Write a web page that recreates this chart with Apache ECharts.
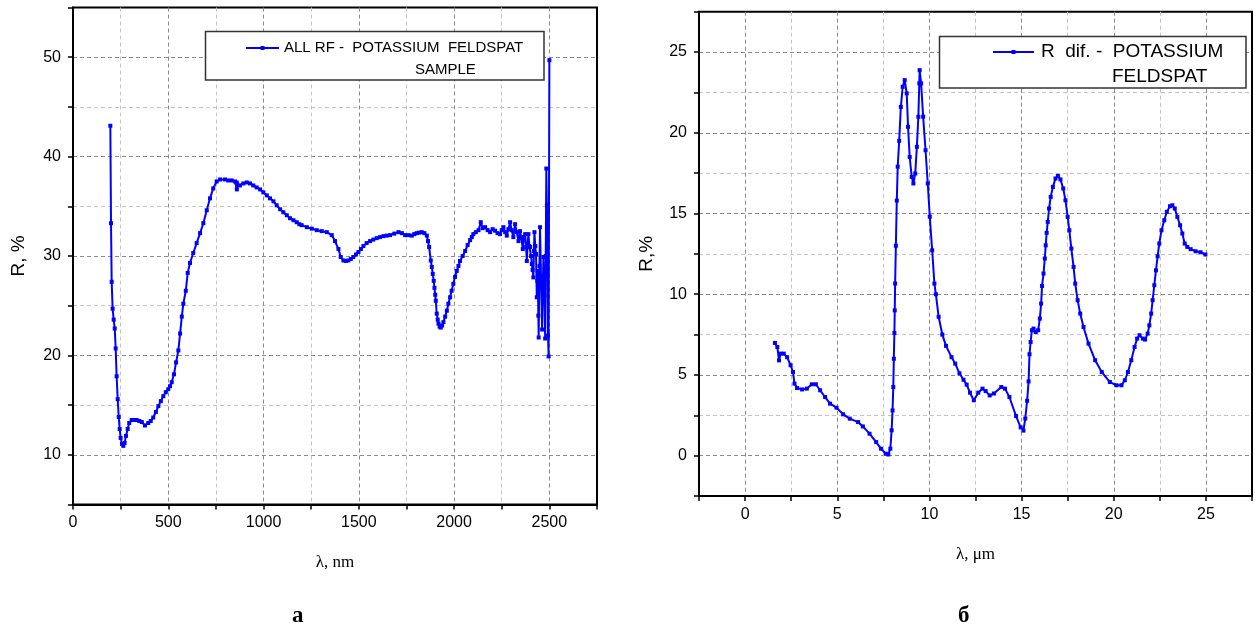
<!DOCTYPE html>
<html>
<head>
<meta charset="utf-8">
<script src="https://cdn.jsdelivr.net/npm/echarts@6/dist/echarts.min.js"></script>
<style>
html,body{margin:0;padding:0;background:#fff;}
#c{width:1255px;height:630px;}
</style>
</head>
<body>
<div id="c"></div>
<script>
// ---- Data: panel а (λ in nm, R in %) ----
const leftLambda = [196,199.5,203,208,213.5,219,224,229,234.6,240,245,250,257,264,271,278,287,295,308,320,334,348,361,378,395,408,421,435,448,461,474,487,500,509,518,530,541,553,562,571,579,592,602,614,631,649,667,684,702,719,736,754,772,798,815,833,850,859,860,862,876,894,912,929,946,964,982,999,1017,1034,1052,1069,1087,1104,1122,1139,1157,1174,1188,1200,1227,1253,1279,1305,1332,1358,1375,1393,1405,1419,1432,1445,1458,1471,1485,1498,1511,1524,1541,1559,1576,1594,1611,1629,1646,1664,1686,1708,1726,1743,1760,1778,1791,1804,1817,1830,1844,1857,1863,1869,1877.6,1883,1888,1893,1897,1901,1904,1909,1914,1918,1924,1930,1937,1944,1953,1962,1970,1979,1987,1996,2005,2014,2023,2031,2045,2058,2071,2084,2093,2101,2114,2128,2140,2150,2163,2176,2189,2202,2215,2228,2241,2250,2259,2268,2276.6,2285,2294,2302,2311,2320,2329,2338,2346,2353,2360.6,2367,2373,2378,2381.6,2386,2390,2395,2399,2404,2408,2412,2416,2419,2421.6,2426,2430,2434,2437,2439,2442,2444,2448,2451,2456,2462,2466,2469,2474,2478,2481,2484,2487,2490,2493,2496,2500];
const leftR = [43.1,33.3,27.4,24.7,23.6,22.7,20.7,17.9,15.6,13.8,12.6,11.7,11.1,10.9,11.2,11.9,12.6,13.2,13.5,13.5,13.5,13.4,13.3,12.95,13.2,13.4,13.75,14.3,14.9,15.4,15.9,16.3,16.6,16.9,17.3,18.1,19.3,20.5,22.2,23.9,25.2,26.5,28.3,29.3,30.3,31.3,32.3,33.3,34.6,35.8,36.8,37.5,37.7,37.7,37.6,37.6,37.5,37.4,36.7,37.2,37.1,37.3,37.4,37.3,37.1,36.9,36.7,36.4,36.1,35.8,35.5,35.1,34.7,34.4,34.1,33.8,33.6,33.4,33.2,33.1,32.9,32.75,32.6,32.5,32.4,32.1,31.5,30.7,29.9,29.55,29.5,29.55,29.7,29.9,30.15,30.4,30.7,31.0,31.3,31.5,31.65,31.8,31.9,32.0,32.05,32.1,32.25,32.4,32.3,32.1,32.1,32.05,32.2,32.3,32.35,32.4,32.3,32.05,31.5,30.9,29.55,28.9,28.2,27.5,26.8,26.1,25.5,24.2,23.6,23.2,22.9,22.8,23.0,23.35,23.9,24.5,25.2,25.85,26.5,27.2,27.9,28.5,29.0,29.5,30.0,30.5,31.1,31.6,31.9,32.2,32.4,32.6,33.4,32.8,32.9,32.6,32.4,32.7,32.55,32.3,32.2,32.6,32.9,32.4,32.05,32.7,33.4,32.6,31.9,33.2,32.4,31.5,32.5,31.8,30.7,31.9,32.2,30.9,29.5,31.2,32.2,31.0,30.9,30.0,29.2,28.6,27.85,30.5,32.4,31.0,30.2,25.85,27.5,28.5,24.0,21.8,29.0,32.9,28.0,22.6,27.5,29.9,26.0,21.7,30.0,38.8,35.1,30.1,22.0,19.9,49.7];

// ---- Data: panel б (λ in µm, R in %) ----
const rightLambda = [1.62,1.75,1.84,1.93,2.1,2.28,2.47,2.6,2.68,2.82,3.09,3.35,3.62,3.84,4.07,4.34,4.61,4.96,5.32,5.68,6.13,6.39,6.75,7.11,7.37,7.64,7.77,7.88,7.95,8.0,8.04,8.07,8.1,8.12,8.14,8.18,8.23,8.28,8.36,8.45,8.55,8.66,8.77,8.84,8.93,9.04,9.13,9.23,9.32,9.4,9.45,9.47,9.55,9.66,9.79,9.91,10.02,10.15,10.27,10.35,10.5,10.7,10.9,11.2,11.4,11.63,11.85,12.02,12.2,12.41,12.65,12.88,13.05,13.27,13.5,13.9,14.1,14.34,14.7,14.95,15.1,15.2,15.3,15.38,15.43,15.49,15.56,15.65,15.77,15.9,15.99,16.06,16.11,16.19,16.26,16.31,16.36,16.42,16.49,16.58,16.7,16.84,16.97,17.11,17.26,17.38,17.5,17.59,17.7,17.82,17.91,18.04,18.18,18.36,18.63,18.99,19.35,19.79,20.15,20.42,20.6,20.77,20.95,21.13,21.27,21.4,21.58,21.7,21.84,21.93,22.03,22.11,22.2,22.29,22.38,22.47,22.59,22.74,22.88,23.05,23.18,23.31,23.45,23.6,23.72,23.85,23.99,24.17,24.44,24.71,24.97];
const rightR = [6.98,6.73,5.9,6.32,6.32,6.1,5.6,5.18,4.46,4.19,4.1,4.15,4.42,4.42,4.05,3.63,3.22,2.97,2.56,2.29,2.08,1.81,1.36,0.84,0.43,0.12,0.07,0.43,1.57,2.8,4.25,6.0,7.6,9.0,10.66,13.0,15.8,17.9,19.5,21.6,22.85,23.26,22.44,20.37,18.5,17.27,16.86,17.48,19.13,20.99,23.06,23.88,23.06,21.0,18.92,16.86,14.8,12.72,10.66,10.0,8.6,7.5,6.8,6.1,5.7,5.1,4.7,4.4,3.9,3.43,3.9,4.15,4.0,3.73,3.85,4.25,4.15,3.63,2.45,1.75,1.55,2.3,3.4,4.6,6.28,7.04,7.77,7.87,7.66,7.77,8.49,9.42,10.51,11.28,12.21,13.03,13.8,14.48,15.31,16.03,16.65,17.17,17.33,17.11,16.55,15.82,14.79,13.96,12.83,11.69,10.66,9.63,8.8,7.97,6.94,5.91,5.18,4.56,4.36,4.36,4.67,5.18,5.91,6.73,7.25,7.46,7.25,7.19,7.56,8.07,8.8,9.63,10.56,11.48,12.35,13.14,13.96,14.58,15.1,15.45,15.51,15.31,14.79,14.27,13.76,13.14,12.93,12.79,12.66,12.6,12.46];

// ---- Texts ----
const leftName = 'ALL RF -  POTASSIUM  FELDSPAT';
const leftName2 = 'SAMPLE';
const rightName = 'R  dif. -  POTASSIUM';
const rightName2 = 'FELDSPAT';
const leftXTitle = 'λ, nm';
const rightXTitle = 'λ, μm';
const leftYTitle = 'R, %';
const rightYTitle = 'R,%';
const captionA = 'а';
const captionB = 'б';

const SANS = '"Liberation Sans", Arial, sans-serif';
const SERIF = '"Liberation Serif", "Times New Roman", serif';
const BLUE = '#0000ff';

function axisCommon(fmtStep) {
  return {
    axisLine: {show: true, onZero: false, lineStyle: {color: '#000', width: 2}},
    axisTick: {show: true, inside: false, length: 5, lineStyle: {color: '#000', width: 1.5}},
    axisLabel: {
      color: '#000', fontFamily: SANS, fontSize: 16,
      formatter: v => (Math.abs(v % fmtStep) < 1e-9 ? String(v) : '')
    },
    splitLine: {show: true, showMinLine: false, showMaxLine: false, lineStyle: {type: [4, 3], width: 1}}
  };
}

const chart = echarts.init(document.getElementById('c'), null, {renderer: 'canvas'});

const MAJ = '#8a8a8a', MIN = '#c4c4c4';
const xA = axisCommon(500);
const yA = axisCommon(10);
const xB = axisCommon(5);
const yB = axisCommon(5);
xA.splitLine.lineStyle.color = [MIN, MAJ];
yA.splitLine.lineStyle.color = [MAJ, MIN];
xB.splitLine.lineStyle.color = [MAJ, MIN];
yB.splitLine.lineStyle.color = [MAJ, MIN];

chart.setOption({
  animation: false,
  backgroundColor: '#fff',
  grid: [
    {left: 73, top: 7.5, width: 524, height: 497, show: true, borderColor: '#000', borderWidth: 2, containLabel: false},
    {left: 699, top: 11.7, width: 560, height: 484.3, show: true, borderColor: '#000', borderWidth: 2, containLabel: false}
  ],
  xAxis: [
    Object.assign({type: 'value', gridIndex: 0, min: 0, max: 2750, interval: 250,
      name: leftXTitle, nameLocation: 'middle', nameGap: 50,
      nameTextStyle: {fontFamily: SERIF, fontSize: 17, color: '#000'}}, xA,
      {axisLabel: Object.assign({}, xA.axisLabel, {margin: 10})}),
    Object.assign({type: 'value', gridIndex: 1, min: -2.5, max: 27.5, interval: 2.5,
      name: rightXTitle, nameLocation: 'middle', nameGap: 50,
      nameTextStyle: {fontFamily: SERIF, fontSize: 17, color: '#000'}}, xB,
      {axisLabel: Object.assign({}, xB.axisLabel, {margin: 11})})
  ],
  yAxis: [
    Object.assign({type: 'value', gridIndex: 0, min: 5, max: 55, interval: 5,
      name: leftYTitle, nameLocation: 'middle', nameGap: 45,
      nameTextStyle: {fontFamily: SANS, fontSize: 19, color: '#000'}}, yA,
      {axisLabel: Object.assign({}, yA.axisLabel, {margin: 12})}),
    Object.assign({type: 'value', gridIndex: 1, min: -2.5, max: 27.5, interval: 2.5,
      name: rightYTitle, nameLocation: 'middle', nameGap: 43,
      nameTextStyle: {fontFamily: SANS, fontSize: 19, color: '#000'}}, yB,
      {axisLabel: Object.assign({}, yB.axisLabel, {margin: 12})})
  ],
  legend: [
    {data: [leftName], left: 245, top: 40, padding: 0, itemWidth: 33, itemHeight: 5,
      selectedMode: false, textStyle: {fontFamily: SANS, fontSize: 15, color: '#000', lineHeight: 16}, z: 10},
    {data: [rightName], left: 992, top: 42, padding: 0, itemWidth: 41, itemHeight: 5,
      selectedMode: false, textStyle: {fontFamily: SANS, fontSize: 19, color: '#000', lineHeight: 20, padding: [0, 0, 0, 2]}, z: 10}
  ],
  graphic: [
    {type: 'rect', z: 5, shape: {x: 205.5, y: 31.5, width: 338.5, height: 48.5},
      style: {fill: '#fff', stroke: '#333', lineWidth: 1.5}},
    {type: 'rect', z: 5, shape: {x: 939.5, y: 36.5, width: 306.5, height: 51.5},
      style: {fill: '#fff', stroke: '#333', lineWidth: 1.5}},
    {type: 'text', z: 10, left: 415, top: 62, style: {text: leftName2, font: '15px ' + SANS, fill: '#000'}},
    {type: 'text', z: 10, left: 1112, top: 67, style: {text: rightName2, font: '19px ' + SANS, fill: '#000'}},
    {type: 'text', z: 10, left: 292, top: 605, style: {text: captionA, font: 'bold 23px ' + SERIF, fill: '#000'}},
    {type: 'text', z: 10, left: 958, top: 605, style: {text: captionB, font: 'bold 23px ' + SERIF, fill: '#000'}}
  ],
  series: [
    {name: leftName, type: 'line', xAxisIndex: 0, yAxisIndex: 0,
      data: leftLambda.map((x, i) => [x, leftR[i]]),
      symbol: 'rect', symbolSize: 4, showSymbol: true, showAllSymbol: true,
      itemStyle: {color: BLUE}, lineStyle: {color: BLUE, width: 2}, z: 3},
    {name: rightName, type: 'line', xAxisIndex: 1, yAxisIndex: 1,
      data: rightLambda.map((x, i) => [x, rightR[i]]),
      symbol: 'rect', symbolSize: 4, showSymbol: true, showAllSymbol: true,
      itemStyle: {color: BLUE}, lineStyle: {color: BLUE, width: 2}, z: 3}
  ]
});
</script>
</body>
</html>
